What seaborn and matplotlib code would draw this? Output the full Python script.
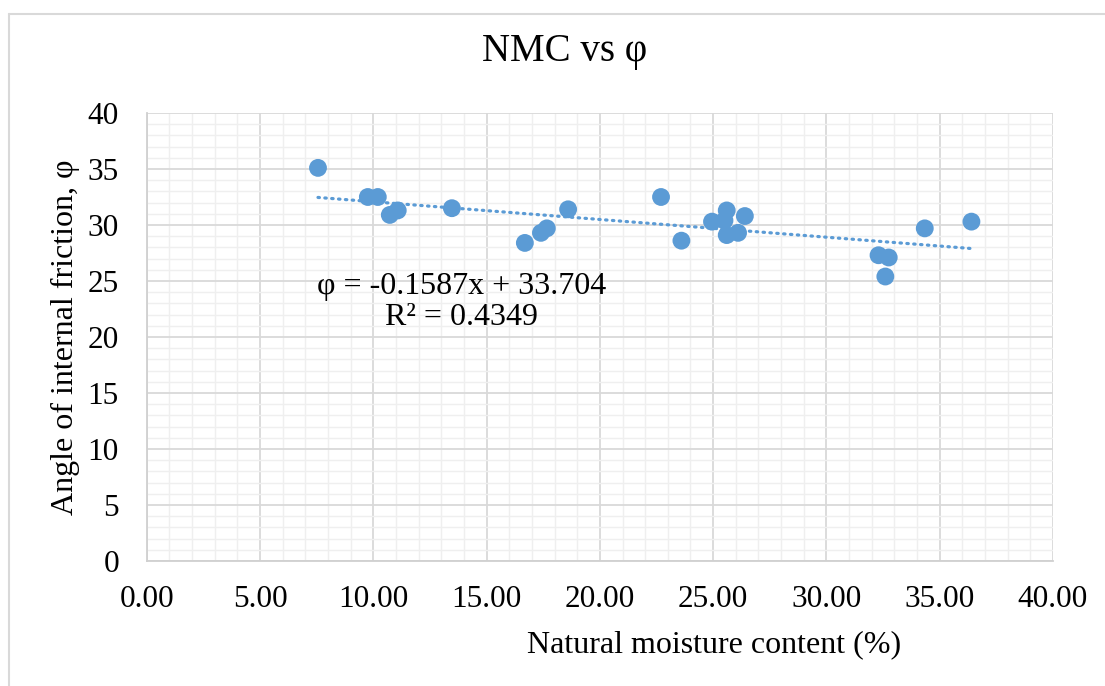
import numpy as np
import pandas as pd
import matplotlib
matplotlib.use("Agg")
import matplotlib.pyplot as plt
from matplotlib.ticker import MultipleLocator, FormatStrFormatter
from matplotlib.lines import Line2D
import seaborn as sns

# ---- data ----
nmc = [7.56, 9.76, 10.20, 10.73, 11.08, 13.47, 16.69, 17.40, 17.66, 18.60,
       22.70, 23.60, 24.95, 25.60, 25.50, 25.60, 26.10, 26.40,
       32.30, 32.75, 32.60, 34.34, 36.40]
phi = [35.1, 32.5, 32.5, 30.9, 31.3, 31.5, 28.4, 29.3, 29.7, 31.4,
       32.5, 28.6, 30.3, 31.3, 30.4, 29.1, 29.3, 30.8,
       27.3, 27.1, 25.4, 29.7, 30.3]
x_ticks = [0, 5, 10, 15, 20, 25, 30, 35, 40]
y_ticks = [0, 5, 10, 15, 20, 25, 30, 35, 40]
title = "NMC vs φ"
x_label = "Natural moisture content (%)"
y_label = "Angle of internal friction, φ"
equation = "φ = -0.1587x + 33.704\nR² = 0.4349"

df = pd.DataFrame({"nmc": nmc, "phi": phi})

sns.set_theme(style="white")
plt.rcParams["font.family"] = ["Liberation Serif", "DejaVu Serif"]
plt.rcParams["text.color"] = "black"
plt.rcParams["axes.labelcolor"] = "black"

blue = "#5b9bd5"
W, H = 1105, 686
fig = plt.figure(figsize=(W / 100, H / 100), dpi=100)
ax = fig.add_axes([146.7 / W, 1 - 561 / H, (1053 - 146.7) / W, (561 - 113) / H])

sns.regplot(data=df, x="nmc", y="phi", ax=ax, scatter=False, ci=None,
            truncate=True,
            line_kws=dict(color=blue, lw=2.3, linestyle=(0, (0.45, 1.7)),
                          dash_capstyle="round", zorder=3))
sns.scatterplot(data=df, x="nmc", y="phi", ax=ax, color=blue, s=165,
                edgecolor="none", zorder=4, legend=False)

ax.set_xlim(0, 40)
ax.set_ylim(0, 40)
ax.set_xticks(x_ticks)
ax.set_yticks(y_ticks)
ax.xaxis.set_major_formatter(FormatStrFormatter("%.2f"))
ax.xaxis.set_minor_locator(MultipleLocator(1))
ax.yaxis.set_minor_locator(MultipleLocator(1))
ax.grid(which="major", color="#d9d9d9", lw=1.3)
ax.grid(which="minor", color="#efefef", lw=1.0)
ax.set_axisbelow(True)
ax.tick_params(which="both", length=0, labelsize=22.5, colors="black")
ax.tick_params(axis="y", pad=20)
ax.tick_params(axis="x", pad=17)
for s in ["top", "right"]:
    ax.spines[s].set_visible(False)
for s in ["left", "bottom"]:
    ax.spines[s].set_color("#d0d0d0")
    ax.spines[s].set_linewidth(1.3)

ax.set_xlabel(x_label, fontsize=23, va="center", color="black")
ax.xaxis.set_label_coords((714 - 146.7) / 906.3, (561 - 645) / 448)
ax.set_ylabel(y_label, fontsize=23, va="center", color="black")
ax.yaxis.set_label_coords((65 - 146.7) / 906.3, 0.5)

ax.set_title(title, fontsize=28, x=(565 - 146.7) / 906.3, y=(561 - 60) / 448,
             va="center", color="black")

ax.text(13.9, 23.15, equation, fontsize=23, ha="center", va="center",
        multialignment="center", linespacing=1.1, zorder=5, color="black")

# chart border (light gray frame, cropped on the right/bottom)
fig.add_artist(Line2D([9 / W, 9 / W], [1 - 14 / H, 0], transform=fig.transFigure,
                      color="#d9d9d9", lw=1.5))
fig.add_artist(Line2D([9 / W, 1], [1 - 14 / H, 1 - 14 / H], transform=fig.transFigure,
                      color="#d9d9d9", lw=1.5))

fig.savefig("out.png", dpi=100)
